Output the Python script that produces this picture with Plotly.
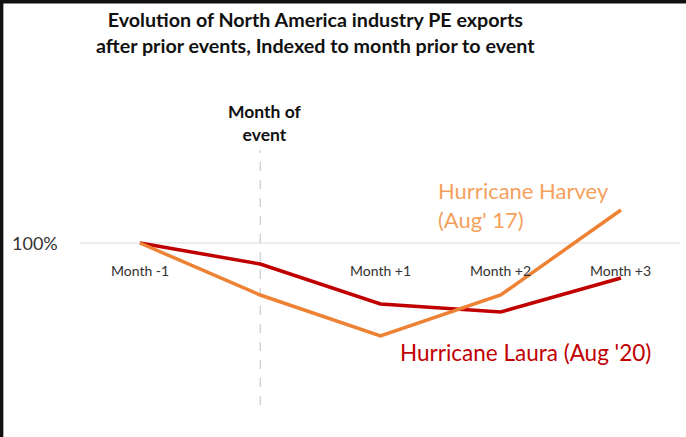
import plotly.graph_objects as go

months = [-1, 0, 1, 2, 3]
month_labels = ["Month -1", "", "Month +1", "Month +2", "Month +3"]
laura = [100, 95.8, 87.8, 86.2, 93.0]
harvey = [100, 89.6, 81.4, 89.6, 106.6]

RED = "#C00000"
ORANGE = "#EE8234"
FONT = "Lato"

fig = go.Figure()
fig.add_trace(go.Scatter(x=months, y=laura, mode="lines",
                         line=dict(color=RED, width=3.5), hoverinfo="skip"))
fig.add_trace(go.Scatter(x=months, y=harvey, mode="lines",
                         line=dict(color=ORANGE, width=3.5), hoverinfo="skip"))

fig.update_layout(
    width=686, height=437,
    margin=dict(l=0, r=0, t=0, b=0),
    paper_bgcolor="white", plot_bgcolor="white",
    showlegend=False,
    font=dict(family=FONT, color="#222"),
    xaxis=dict(range=[-2.164, 3.541], visible=False, fixedrange=True),
    yaxis=dict(range=[61.2, 148.6], visible=False, fixedrange=True),
)

# reference line at 100% and event marker
fig.add_shape(type="line", xref="paper", yref="y", x0=0.1166, x1=0.991, y0=100, y1=100,
              line=dict(color="#D9D9D9", width=1), layer="below")
fig.add_shape(type="line", xref="x", yref="y", x0=0, x1=0, y0=67.6, y1=118.6,
              line=dict(color="#BFBFBF", width=1, dash="dash"), layer="below")

# frame edges (top and left)
fig.add_shape(type="line", xref="paper", yref="paper", x0=0, x1=1, y0=1 - 1.8/437, y1=1 - 1.8/437,
              line=dict(color="#111", width=3.5))
fig.add_shape(type="line", xref="paper", yref="paper", x0=1.6/686, x1=1.6/686, y0=0, y1=1,
              line=dict(color="#111", width=3.5))

# title
fig.add_annotation(xref="paper", yref="paper", x=315/686, y=1 - 33/437,
                   text="<b>Evolution of North America industry PE exports<br>after prior events, Indexed to month prior to event</b>",
                   showarrow=False, font=dict(size=19.7, color="#111", family=FONT),
                   xanchor="center", yanchor="middle", align="center")

# Month labels
for m, lab in zip(months, month_labels):
    if lab:
        fig.add_annotation(x=m, y=100, text=lab, showarrow=False, yshift=-27,
                           font=dict(size=14, color="#333", family=FONT))
fig.add_annotation(x=0, y=100, text="<b>Month of<br>event</b>", showarrow=False,
                   yshift=120, xshift=5,
                   font=dict(size=17.5, color="#111", family=FONT), align="center")

fig.add_annotation(xref="paper", yref="y", x=10/686, y=100, text="100%", showarrow=False,
                   xanchor="left", font=dict(size=18, color="#333", family=FONT))

# series labels
fig.add_annotation(x=1.46, y=100 + (243 - 205) / 5, text="Hurricane Harvey<br>(Aug' 17)",
                   showarrow=False, xanchor="left", align="left",
                   font=dict(size=22, color="#F4A15D", family=FONT))
fig.add_annotation(x=1.15, y=100 - (352 - 243) / 5, text="Hurricane Laura (Aug '20)",
                   showarrow=False, xanchor="left", align="left",
                   font=dict(size=22.5, color=RED, family=FONT))

fig.write_html("out.html", config={"displayModeBar": False},
               post_script="document.body.style.margin='0';")
